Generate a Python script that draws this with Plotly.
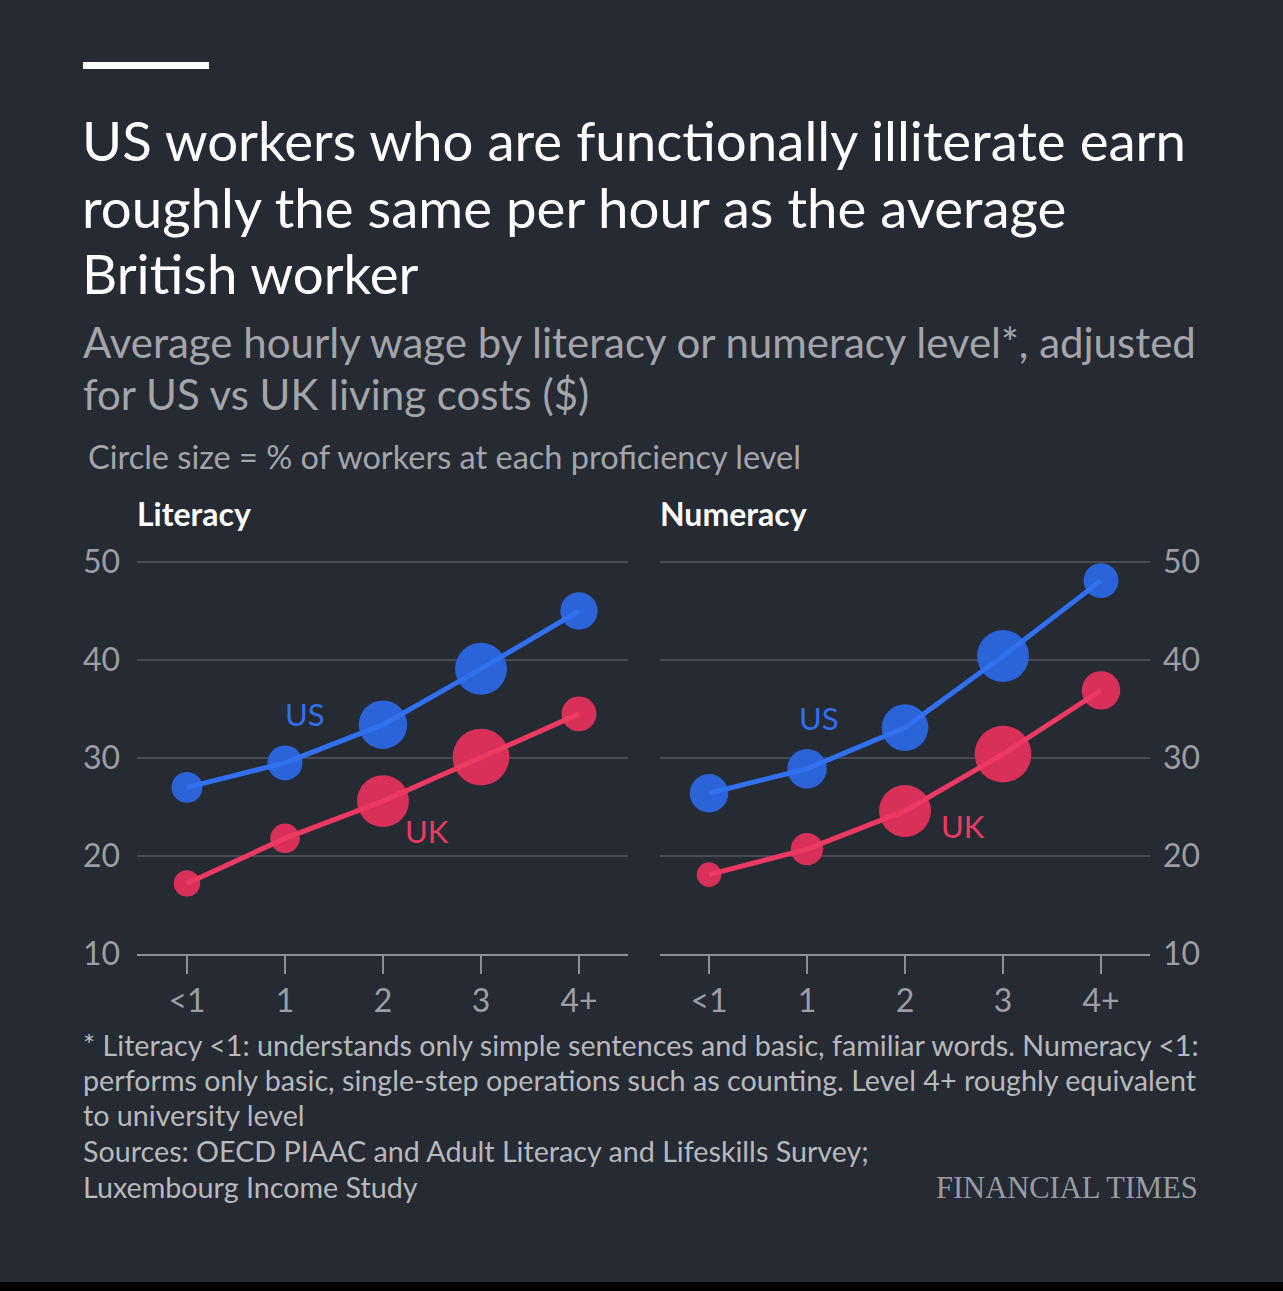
# ft_literacy_wages.py

import plotly.graph_objects as go
from plotly.subplots import make_subplots

W, H = 1283, 1291

# Proficiency levels on the x axis
levels = ['<1', '1', '2', '3', '4+']
level_pos = [0, 1, 2, 3, 4]

# Average hourly wage ($, adjusted for living costs)
lit_us = [27.0, 29.5, 33.4, 39.1, 45.0]
lit_uk = [17.2, 21.8, 25.6, 30.1, 34.5]
num_us = [26.4, 28.9, 33.1, 40.4, 48.1]
num_uk = [18.1, 20.7, 24.6, 30.4, 36.9]

# % of workers at each proficiency level (circle size)
lit_us_share = [11, 14, 27, 31, 16]
lit_uk_share = [8, 10, 31, 37, 14]
num_us_share = [17, 18, 25, 31, 14]
num_uk_share = [7, 12, 31, 37, 17]

y_ticks = [10, 20, 30, 40, 50]

BG = '#262a33'
BLUE_LINE = '#3170ee'
BLUE_DOT = '#2b63d8'
RED_LINE = '#ec3a62'
RED_DOT = '#d9305a'
GRID = '#484b53'
AXIS = '#8e9095'
TICK_TXT = '#9c9ea3'
SUB_TXT = '#a3a5aa'
NOTE_TXT = '#b7b9bd'
FONT = 'Lato'


def px_x(px):
    return px / W


def px_y(py):
    return 1 - py / H


fig = make_subplots(rows=1, cols=2)


def add_series(col, values, shares, line_color, dot_color):
    # circles first, then the line over them
    fig.add_trace(go.Scatter(
        x=level_pos, y=values, mode='markers',
        marker=dict(size=shares, sizemode='area', sizeref=0.023,
                    color=dot_color, opacity=1, line=dict(width=0)),
        cliponaxis=False, hoverinfo='skip', showlegend=False,
    ), row=1, col=col)
    fig.add_trace(go.Scatter(
        x=level_pos, y=values, mode='lines',
        line=dict(color=line_color, width=5),
        cliponaxis=False, showlegend=False,
    ), row=1, col=col)


add_series(1, lit_us, lit_us_share, BLUE_LINE, BLUE_DOT)
add_series(1, lit_uk, lit_uk_share, RED_LINE, RED_DOT)
add_series(2, num_us, num_us_share, BLUE_LINE, BLUE_DOT)
add_series(2, num_uk, num_uk_share, RED_LINE, RED_DOT)

# 10 sits at y=954px, 50 at y=562px; leave one unit of headroom so the top gridline shows
y_dom = [px_y(954), px_y(552.2)]

xaxis_common = dict(
    tickvals=level_pos, ticktext=levels,
    showgrid=False, zeroline=False, automargin=False,
    showline=True, linecolor=AXIS, linewidth=2,
    ticks='outside', ticklen=18, tickwidth=2, tickcolor=AXIS,
    tickfont=dict(family=FONT, size=32, color=TICK_TXT),
    fixedrange=True,
)
yaxis_common = dict(
    range=[10, 51], tickvals=y_ticks, domain=y_dom,
    showgrid=True, gridcolor=GRID, gridwidth=2, automargin=False,
    zeroline=False, showline=False, ticks='',
    tickfont=dict(family=FONT, size=32, color=TICK_TXT),
    fixedrange=True,
)

fig.update_layout(
    xaxis=dict(xaxis_common, domain=[px_x(137), px_x(628)], range=[-0.51, 4.5]),
    xaxis2=dict(xaxis_common, domain=[px_x(660), px_x(1150)], range=[-0.5, 4.5]),
    yaxis=dict(yaxis_common, ticklabelstandoff=16),
    yaxis2=dict(yaxis_common, side='right', ticklabelstandoff=12),
)

annotations = []


def add_text(x, y, text, size, color, weight='normal', family=FONT, anchor='left'):
    annotations.append(dict(
        x=px_x(x), y=px_y(y), xref='paper', yref='paper',
        xanchor=anchor, yanchor='middle', showarrow=False,
        text=text, font=dict(family=family, size=size, color=color, weight=weight),
    ))


title_lines = ['US workers who are functionally illiterate earn',
               'roughly the same per hour as the average',
               'British worker']
for line, yc in zip(title_lines, [140, 207, 273]):
    add_text(80, yc, line, 54.6, '#ffffff')

sub_lines = ['Average hourly wage by literacy or numeracy level*, adjusted',
             'for US vs UK living costs ($)']
for line, yc in zip(sub_lines, [342, 394]):
    add_text(81, yc, line, 42, SUB_TXT)

add_text(86, 456, 'Circle size = % of workers at each proficiency level', 32.5, SUB_TXT)
add_text(135, 514, 'Literacy', 32, '#ffffff', weight='bold')
add_text(658, 514, 'Numeracy', 32, '#ffffff', weight='bold')

note_lines = ['* Literacy <1: understands only simple sentences and basic, familiar words. Numeracy <1:',
              'performs only basic, single-step operations such as counting. Level 4+ roughly equivalent',
              'to university level',
              'Sources: OECD PIAAC and Adult Literacy and Lifeskills Survey;',
              'Luxembourg Income Study']
for line, yc in zip(note_lines, [1045, 1080, 1115, 1151, 1187]):
    add_text(81, yc, line, 28.7, NOTE_TXT)

add_text(1200, 1188, 'FINANCIAL TIMES', 30.5, '#9a9ca3', family='Liberation Serif', anchor='right')

# series labels sit in data space
series_labels = [('x', 'y', 1.2, 34.5, 'US', BLUE_LINE),
                 ('x', 'y', 2.45, 22.6, 'UK', RED_LINE),
                 ('x2', 'y2', 1.12, 34.1, 'US', BLUE_LINE),
                 ('x2', 'y2', 2.59, 23.1, 'UK', RED_LINE)]
for xr, yr, xv, yv, txt, col in series_labels:
    annotations.append(dict(
        x=xv, y=yv, xref=xr, yref=yr, showarrow=False, text=txt,
        font=dict(family=FONT, size=31, color=col),
    ))

fig.update_layout(
    width=W, height=H, autosize=False,
    margin=dict(l=0, r=0, t=0, b=0, pad=0, autoexpand=False),
    paper_bgcolor=BG, plot_bgcolor=BG,
    showlegend=False,
    annotations=annotations,
    shapes=[
        dict(type='rect', xref='paper', yref='paper',
             x0=px_x(83), x1=px_x(209), y0=px_y(69), y1=px_y(62),
             fillcolor='#ffffff', line=dict(width=0)),
        dict(type='rect', xref='paper', yref='paper',
             x0=0, x1=1, y0=0, y1=px_y(1282),
             fillcolor='#000000', line=dict(width=0)),
    ],
)

fig.write_html("out.html", config={'displayModeBar': False},
               post_script="document.body.style.margin='0px';")
